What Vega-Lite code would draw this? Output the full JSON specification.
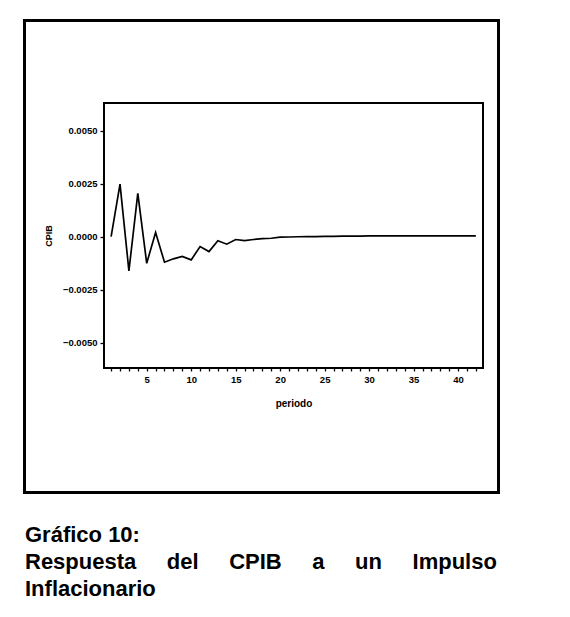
{
  "$schema": "https://vega.github.io/schema/vega-lite/v6.json",
  "autosize": "none",
  "padding": {"left": 104, "top": 103, "right": 87, "bottom": 249},
  "width": 379,
  "height": 265,
  "background": "white",
  "config": {
    "view": {"stroke": "black", "strokeWidth": 2},
    "font": "Liberation Sans",
    "axis": {"labelOverlap": false}
  },
  "title": {
    "text": ["Gráfico 10:", "Respuesta\u00a0\u00a0\u00a0\u00a0\u00a0del\u00a0\u00a0\u00a0\u00a0\u00a0CPIB\u00a0\u00a0\u00a0\u00a0\u00a0a\u00a0\u00a0\u00a0\u00a0\u00a0un\u00a0\u00a0\u00a0\u00a0\u00a0Impulso", "Inflacionario"],
    "orient": "bottom",
    "anchor": "start",
    "frame": "group",
    "dx": -79,
    "offset": 31,
    "font": "Liberation Sans",
    "fontSize": 22,
    "fontWeight": "bold",
    "lineHeight": 27,
    "color": "black"
  },
  "data": {
    "values": [
      {"periodo": 1, "CPIB": 0.0},
      {"periodo": 2, "CPIB": 0.00247},
      {"periodo": 3, "CPIB": -0.00162},
      {"periodo": 4, "CPIB": 0.00204},
      {"periodo": 5, "CPIB": -0.00126},
      {"periodo": 6, "CPIB": 0.00019},
      {"periodo": 7, "CPIB": -0.00121},
      {"periodo": 8, "CPIB": -0.00105},
      {"periodo": 9, "CPIB": -0.00094},
      {"periodo": 10, "CPIB": -0.0011},
      {"periodo": 11, "CPIB": -0.00047},
      {"periodo": 12, "CPIB": -0.00071},
      {"periodo": 13, "CPIB": -0.0002},
      {"periodo": 14, "CPIB": -0.00036},
      {"periodo": 15, "CPIB": -0.00014},
      {"periodo": 16, "CPIB": -0.00019},
      {"periodo": 17, "CPIB": -0.00014},
      {"periodo": 18, "CPIB": -0.0001},
      {"periodo": 19, "CPIB": -0.00008},
      {"periodo": 20, "CPIB": -0.00003},
      {"periodo": 21, "CPIB": -0.00002},
      {"periodo": 22, "CPIB": -0.00001},
      {"periodo": 23, "CPIB": 0.0},
      {"periodo": 24, "CPIB": 0.0},
      {"periodo": 25, "CPIB": 0.00001},
      {"periodo": 26, "CPIB": 0.00001},
      {"periodo": 27, "CPIB": 0.00002},
      {"periodo": 28, "CPIB": 0.00002},
      {"periodo": 29, "CPIB": 0.00002},
      {"periodo": 30, "CPIB": 0.00003},
      {"periodo": 31, "CPIB": 0.00003},
      {"periodo": 32, "CPIB": 0.00003},
      {"periodo": 33, "CPIB": 0.00003},
      {"periodo": 34, "CPIB": 0.00003},
      {"periodo": 35, "CPIB": 0.00003},
      {"periodo": 36, "CPIB": 0.00003},
      {"periodo": 37, "CPIB": 0.00003},
      {"periodo": 38, "CPIB": 0.00003},
      {"periodo": 39, "CPIB": 0.00003},
      {"periodo": 40, "CPIB": 0.00003},
      {"periodo": 41, "CPIB": 0.00003},
      {"periodo": 42, "CPIB": 0.00003}
    ]
  },
  "layer": [
    {
      "mark": {"type": "line", "color": "black", "strokeWidth": 1.7},
      "encoding": {
        "x": {
          "field": "periodo",
          "type": "quantitative",
          "scale": {"domain": [0.2, 42.8], "nice": false, "zero": false},
          "axis": {
            "title": "periodo",
            "values": [1,2,3,4,5,6,7,8,9,10,11,12,13,14,15,16,17,18,19,20,21,22,23,24,25,26,27,28,29,30,31,32,33,34,35,36,37,38,39,40,41,42],
            "tickCount": 60,
            "labelExpr": "datum.value % 5 == 0 ? datum.label : ''",
            "labelOverlap": false,
            "labelFlush": false,
            "domain": false,
            "grid": false,
            "ticks": true,
            "tickSize": 3,
            "tickColor": "black",
            "tickWidth": 1.3,
            "labelFont": "Liberation Sans",
            "labelFontWeight": "bold",
            "labelFontSize": 9.5,
            "labelColor": "black",
            "labelPadding": 3,
            "titleFont": "Liberation Sans",
            "titleFontWeight": "bold",
            "titleFontSize": 10,
            "titleColor": "black",
            "titlePadding": 15
          }
        },
        "y": {
          "field": "CPIB",
          "type": "quantitative",
          "scale": {"domain": [-0.0062, 0.0063], "nice": false, "zero": false},
          "axis": {
            "title": "CPIB",
            "values": [-0.005, -0.0025, 0, 0.0025, 0.005],
            "tickCount": 10,
            "format": ".4f",
            "labelOverlap": false,
            "domain": false,
            "grid": false,
            "tickSize": 4,
            "tickColor": "black",
            "tickWidth": 1.3,
            "labelFont": "Liberation Sans",
            "labelFontWeight": "bold",
            "labelFontSize": 9.5,
            "labelColor": "black",
            "labelPadding": 3,
            "titleFont": "Liberation Sans",
            "titleFontWeight": "bold",
            "titleFontSize": 9,
            "titleColor": "black",
            "titlePadding": 9
          }
        }
      }
    },
    {
      "mark": {"type": "rect", "fill": null, "filled": false, "stroke": "black", "strokeWidth": 2, "clip": false},
      "encoding": {
        "x": {"datum": -8.7, "type": "quantitative"},
        "x2": {"datum": 44.5},
        "y": {"datum": 0.01019, "type": "quantitative"},
        "y2": {"datum": -0.01208}
      }
    }
  ]
}
